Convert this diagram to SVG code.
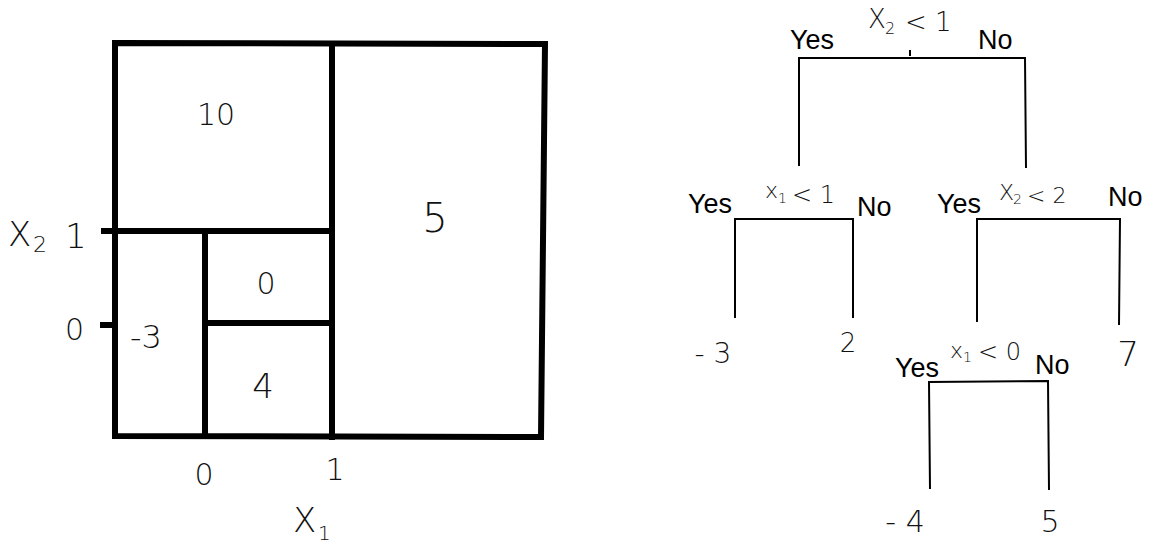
<svg xmlns="http://www.w3.org/2000/svg" width="1152" height="546" viewBox="0 0 1152 546">
<style>
.thick{stroke:#000;stroke-width:6;fill:none;stroke-linecap:square}
.thin{stroke:#000;stroke-width:2;fill:none}
.hand{font-family:"DejaVu Sans","Liberation Sans",sans-serif;font-weight:200;fill:#111}
.lab{font-family:"Liberation Sans",Arial,sans-serif;font-size:27px;fill:#000}
.mid{text-anchor:middle}
</style>
<rect width="1152" height="546" fill="#fff"/>
<g id="partition">
<path class="thick" d="M115,43 L545,44 L541,437 L115,436 Z"/>
<line class="thick" x1="332" y1="49" x2="332" y2="437"/>
<line class="thick" x1="104" y1="231" x2="332" y2="231"/>
<line class="thick" x1="205" y1="231" x2="205" y2="436"/>
<line class="thick" x1="205" y1="323" x2="332" y2="323"/>
<line class="thick" x1="103" y1="325" x2="112" y2="325"/>
</g>
<g id="region-labels">
<text class="hand mid" x="216" y="125" font-size="30">10</text>
<text class="hand mid" x="435" y="232" font-size="40">5</text>
<text class="hand mid" x="266" y="294" font-size="30">0</text>
<text class="hand mid" x="146" y="348" font-size="32">-3</text>
<text class="hand mid" x="263" y="398" font-size="34">4</text>
</g>
<g id="axes">
<text class="hand" x="8" y="246" font-size="34">X</text>
<text class="hand" x="33" y="252" font-size="22">2</text>
<text class="hand" x="65" y="248" font-size="34">1</text>
<text class="hand" x="65" y="340" font-size="30">0</text>
<text class="hand mid" x="204" y="485" font-size="30">0</text>
<text class="hand mid" x="335" y="480" font-size="30">1</text>
<text class="hand" x="293" y="532" font-size="34">X</text>
<text class="hand" x="318" y="540" font-size="20">1</text>
</g>
<g id="connectors">
<path class="thin" d="M799,166 L799,58 L1025,58 L1026,168"/>
<line class="thin" x1="910" y1="50" x2="910" y2="56"/>
<path class="thin" d="M735,318 L735,219 L853,219 L853,318"/>
<path class="thin" d="M977,322 L977,219 L1120,219 L1119,325"/>
<path class="thin" d="M930,489 L929,382 L1048,381 L1049,490"/>
</g>
<g id="node-root">
<text class="hand" x="868" y="28" font-size="26">X</text>
<text class="hand" x="885" y="34" font-size="16">2</text>
<text class="hand" x="905" y="31" font-size="26">&lt; 1</text>
<text class="lab" x="790" y="49">Yes</text>
<text class="lab" x="978" y="49">No</text>
</g>
<g id="node-x1-lt-1">
<text class="hand" x="765" y="198" font-size="22">x</text>
<text class="hand" x="778" y="203" font-size="14">1</text>
<text class="hand" x="792" y="203" font-size="24">&lt; 1</text>
<text class="lab" x="688" y="213">Yes</text>
<text class="lab" x="857" y="216">No</text>
</g>
<g id="node-x2-lt-2">
<text class="hand" x="999" y="200" font-size="22">X</text>
<text class="hand" x="1013" y="204" font-size="14">2</text>
<text class="hand" x="1027" y="203" font-size="22">&lt; 2</text>
<text class="lab" x="937" y="213">Yes</text>
<text class="lab" x="1108" y="206">No</text>
</g>
<g id="node-x1-lt-0">
<text class="hand" x="950" y="358" font-size="22">x</text>
<text class="hand" x="963" y="362" font-size="14">1</text>
<text class="hand" x="978" y="360" font-size="24">&lt; 0</text>
<text class="lab" x="895" y="377">Yes</text>
<text class="lab" x="1035" y="374">No</text>
</g>
<g id="leaves">
<text class="hand mid" x="713" y="363" font-size="28">- 3</text>
<text class="hand mid" x="848" y="352" font-size="26">2</text>
<text class="hand mid" x="1128" y="366" font-size="34">7</text>
<text class="hand mid" x="905" y="532" font-size="30">- 4</text>
<text class="hand mid" x="1050" y="532" font-size="30">5</text>
</g>
</svg>
